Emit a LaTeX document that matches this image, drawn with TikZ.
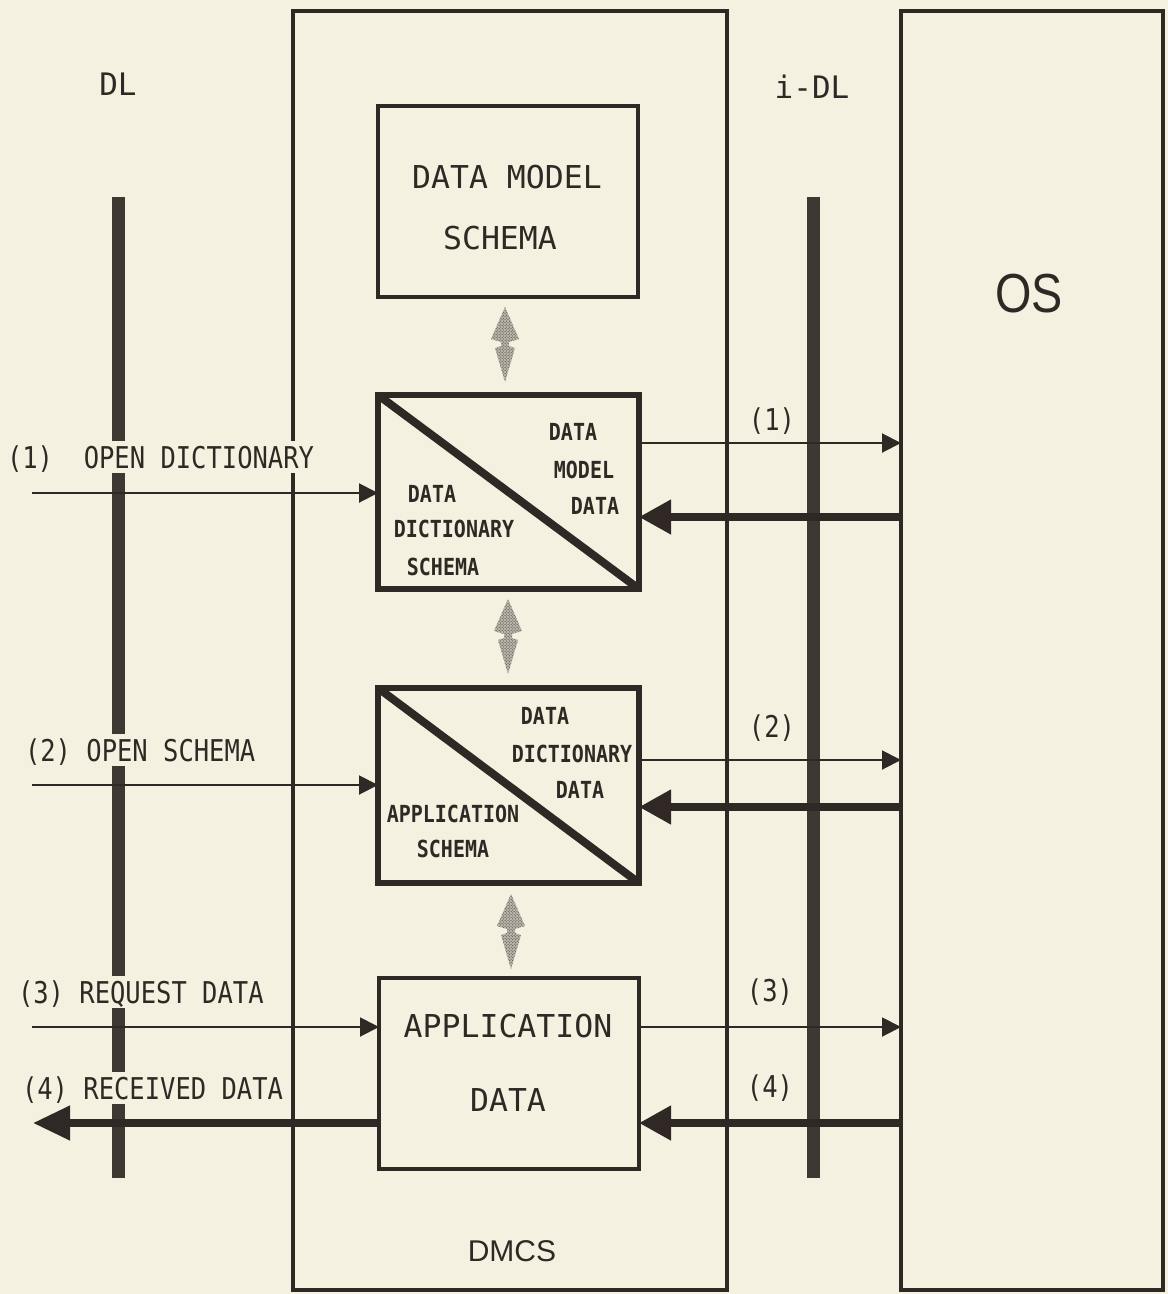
\documentclass[tikz,border=0pt]{standalone}
\usepackage{fontspec}
\usepackage{tikz}
\usetikzlibrary{arrows.meta,patterns}
\newfontfamily\plotfont[FakeStretch=0.85]{DejaVu Sans Mono}
\newfontfamily\plotwide{DejaVu Sans Mono}
\newfontfamily\dmcsfont{Liberation Sans}
\newfontfamily\osfont[FakeStretch=0.85]{Liberation Sans}
\definecolor{pdfcolor1}{RGB}{48,40,37}
\definecolor{pdfcolor2}{RGB}{245,241,224}
\definecolor{pdfcolor3}{RGB}{60,54,50}
\definecolor{pdfcolor4}{RGB}{62,56,50}
\definecolor{pdfcolor5}{RGB}{185,180,170}

\begin{document}
\begin{tikzpicture}[x=1bp,y=-1bp,inner sep=0pt,outer sep=0pt,
  frame/.style={draw=pdfcolor1,line width=4bp,anchor=north west},
  thinbox/.style={draw=pdfcolor1,line width=3.5bp,anchor=north west},
  heavybox/.style={draw=pdfcolor1,line width=6.5bp,anchor=north west},
  split/.style={draw=pdfcolor1,line width=8bp,shorten <=2bp,shorten >=2bp},
  bar/.style={draw=pdfcolor4,line width=13bp},
  thinarrow/.style={draw=pdfcolor1,line width=2bp,-{Triangle[length=19bp,width=19bp]}},
  thickarrow/.style={draw=pdfcolor1,line width=7.5bp,-{Triangle[length=32bp,width=33bp]}},
  stipple/.style={preaction={fill=pdfcolor5},pattern=crosshatch dots,pattern color=pdfcolor3},
  calltext/.style={font=\plotfont\fontsize{30bp}{36bp}\selectfont,text=pdfcolor1},
  calllabel/.style={calltext,anchor=west,fill=pdfcolor2,text height=22bp,text depth=0bp,inner ysep=5bp},
  boxtext/.style={font=\plotwide\fontsize{31.5bp}{38bp}\selectfont,text=pdfcolor1},
  splittext/.style={font=\plotfont\bfseries\fontsize{23.5bp}{28bp}\selectfont,text=pdfcolor1},
  layertext/.style={font=\plotwide\fontsize{31bp}{37bp}\selectfont,text=pdfcolor1}]
  \useasboundingbox (0,0) rectangle (1168,1294);
  \fill[pdfcolor2] (0,0) rectangle (1168,1294);
  \draw[bar] (118,197) -- (118,1178);
  \draw[bar] (813,197) -- (813,1178);
  \node[frame,minimum width=434bp,minimum height=1279bp] (dmcs) at (293,11) {};
  \node[frame,minimum width=262bp,minimum height=1279bp] (os) at (901,11) {};
  \node[thinbox,minimum width=260bp,minimum height=191bp] (dms) at (378,106) {};
  \node[heavybox,minimum width=261bp,minimum height=194bp] (dds) at (378,395) {};
  \node[heavybox,minimum width=261bp,minimum height=195bp] (aps) at (378,688) {};
  \node[thinbox,minimum width=260bp,minimum height=191bp] (apd) at (379,978) {};
  \draw[split] (dds.north west) -- (dds.south east);
  \draw[split] (aps.north west) -- (aps.south east);
  \fill[stipple,shift={(505,345)}] (0,-38) -- (14,-6) -- (4,-3) -- (4,1) -- (10,3) -- (0,37) -- (-10,3) -- (-4,1) -- (-4,-3) -- (-14,-6) -- cycle;
  \fill[stipple,shift={(508,637)}] (0,-38) -- (14,-6) -- (4,-3) -- (4,1) -- (10,3) -- (0,37) -- (-10,3) -- (-4,1) -- (-4,-3) -- (-14,-6) -- cycle;
  \fill[stipple,shift={(511,932)}] (0,-38) -- (14,-6) -- (4,-3) -- (4,1) -- (10,3) -- (0,37) -- (-10,3) -- (-4,1) -- (-4,-3) -- (-14,-6) -- cycle;
  \coordinate (in1) at (32,493);
  \coordinate (in2) at (32,785);
  \coordinate (in3) at (32,1027);
  \coordinate (out4) at (33,1123);
  \coordinate (up1) at (0,443);
  \coordinate (dn1) at (0,517);
  \coordinate (up2) at (0,760);
  \coordinate (dn2) at (0,807);
  \coordinate (up3) at (0,1027);
  \coordinate (dn3) at (0,1123);
  \draw[thinarrow] (in1) -- (in1 -| dds.west);
  \draw[thinarrow] (in2) -- (in2 -| aps.west);
  \draw[thinarrow] (in3) -- (in3 -| apd.west);
  \draw[thickarrow,-{Triangle[length=37bp,width=33bp]}] (out4 -| apd.west) -- (out4);
  \draw[thinarrow] (dds.east |- up1) -- (os.west |- up1);
  \draw[thickarrow] (os.west |- dn1) -- (dds.east |- dn1);
  \draw[thinarrow] (aps.east |- up2) -- (os.west |- up2);
  \draw[thickarrow] (os.west |- dn2) -- (aps.east |- dn2);
  \draw[thinarrow] (apd.east |- up3) -- (os.west |- up3);
  \draw[thickarrow] (os.west |- dn3) -- (apd.east |- dn3);
  \node[calllabel] (od) at (7,457) {(1)\ \ OPEN DICTIONARY};
  \node[calllabel] (osch) at (25,750) {(2) OPEN SCHEMA};
  \node[calllabel] (rq) at (18,992) {(3) REQUEST DATA};
  \node[calllabel] (rc) at (22,1088) {(4) RECEIVED DATA};
  \node[calltext] (r1) at (772,421) {(1)};
  \node[calltext] (r2) at (772,728) {(2)};
  \node[calltext] (r3) at (770,992) {(3)};
  \node[calltext] (r4) at (770,1088) {(4)};
  \node[layertext] (dl) at (118,84) {DL};
  \node[layertext] (idl) at (812,87) {i-DL};
  \node[boxtext] (dms1) at (507,177) {DATA MODEL};
  \node[boxtext] (dms2) at (500,238) {SCHEMA};
  \node[splittext] (ddm1) at (573,432) {DATA};
  \node[splittext] (ddm2) at (584,470) {MODEL};
  \node[splittext] (ddm3) at (595,506) {DATA};
  \node[splittext] (dds1) at (432,494) {DATA};
  \node[splittext] (dds2) at (454,529) {DICTIONARY};
  \node[splittext] (dds3) at (443,567) {SCHEMA};
  \node[splittext] (add1) at (545,716) {DATA};
  \node[splittext] (add2) at (572,754) {DICTIONARY};
  \node[splittext] (add3) at (580,790) {DATA};
  \node[splittext] (aps1) at (453,814) {APPLICATION};
  \node[splittext] (aps2) at (453,849) {SCHEMA};
  \node[boxtext] (apd1) at (508,1026) {APPLICATION};
  \node[boxtext] (apd2) at (508,1100) {DATA};
  \node[font=\dmcsfont\fontsize{30bp}{36bp}\selectfont,text=pdfcolor1] (dmcsl) at (512,1251) {DMCS};
  \node[font=\osfont\fontsize{55bp}{66bp}\selectfont,text=pdfcolor1] (osl) at (1029,294) {OS};
\end{tikzpicture}
\end{document}
